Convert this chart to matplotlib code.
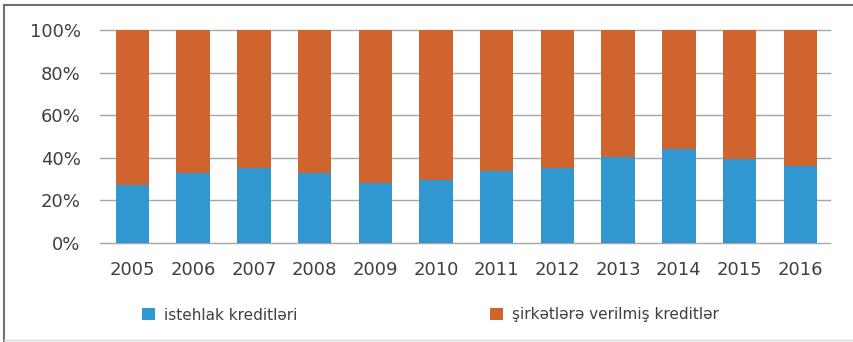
import matplotlib.pyplot as plt
import numpy as np

years = ['2005', '2006', '2007', '2008', '2009', '2010',
         '2011', '2012', '2013', '2014', '2015', '2016']
istehlak = [27, 33, 35, 33, 28, 29.5, 34, 35, 40.5, 44, 39.5, 36]
sirket = [100 - v for v in istehlak]
yticks = [0, 20, 40, 60, 80, 100]

blue = '#3197D0'
orange = '#D0642E'

plt.rcParams['font.family'] = ['DejaVu Sans']

fig = plt.figure(figsize=(8.54, 3.42), dpi=100)
ax = fig.add_axes([100/854, 1 - 243/342, 730/854, 213/342])

x = np.arange(len(years))
b1 = ax.bar(x, istehlak, width=0.55, color=blue, zorder=3, label='istehlak kreditləri')
b2 = ax.bar(x, sirket, width=0.55, bottom=istehlak, color=orange, zorder=3,
            label='şirkətlərə verilmiş kreditlər')

ax.set_xlim(-0.535, 11.49)
ax.set_ylim(0, 100)
ax.set_yticks(yticks)
ax.set_yticklabels([f'{t}%' for t in yticks])
ax.set_xticks(x)
ax.set_xticklabels(years)
ax.tick_params(length=0, labelsize=13, colors='#404040')
ax.tick_params(axis='x', pad=13)
ax.tick_params(axis='y', pad=14)
ax.grid(axis='y', color='#A6A6A6', linewidth=1, zorder=0)
for gl in ax.get_ygridlines():
    gl.set_clip_on(False)
for s in ax.spines.values():
    s.set_visible(False)

leg = fig.legend(handles=[b1, b2], loc='center left', bbox_to_anchor=(128/854, 1 - 315/342),
                 ncol=2, frameon=False, fontsize=11, handlelength=0.85, handleheight=0.85,
                 handletextpad=0.6, columnspacing=12.6, labelcolor='#404040')

# outer frame
fig.add_artist(plt.Line2D([4/854, 1], [1 - 5/342, 1 - 5/342], color='#707070', lw=1.5))
fig.add_artist(plt.Line2D([4/854, 4/854], [0, 1 - 5/342], color='#707070', lw=1.5))
fig.add_artist(plt.Line2D([4/854, 1], [2/342, 2/342], color='#D8D8D8', lw=1))

fig.savefig('out.png', dpi=100)
